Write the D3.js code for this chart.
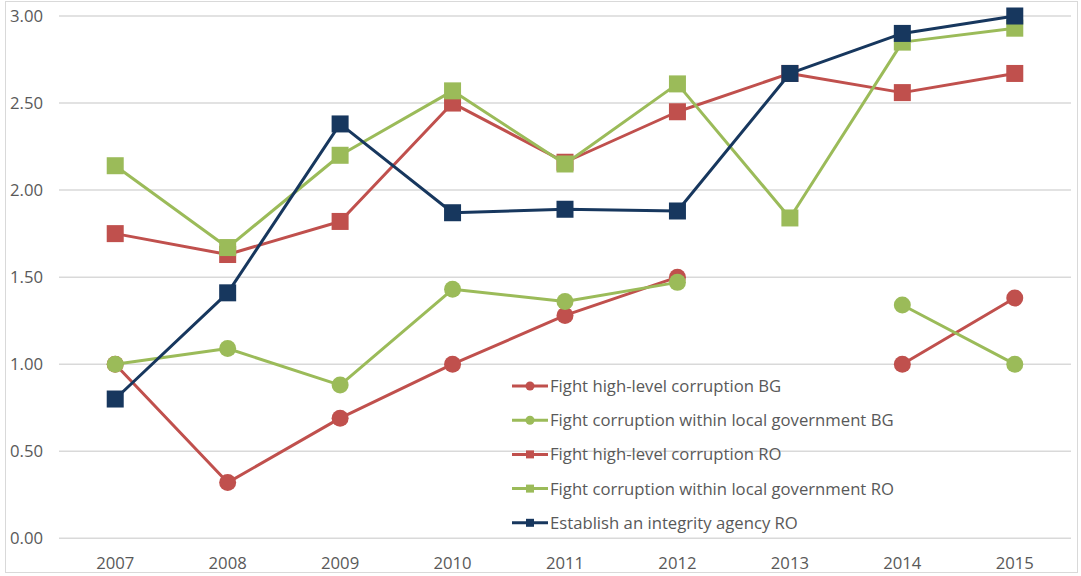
<!DOCTYPE html>
<html>
<head>
<meta charset="utf-8">
<script src="https://cdn.jsdelivr.net/npm/d3@7"></script>
<style>
  body { margin: 0; background: #fff; }
  svg text { font-family: 'Open Sans', 'Liberation Sans', sans-serif; fill: #595959; }
</style>
</head>
<body>
<svg id="chart" width="1081" height="576"></svg>
<script>
// Data
const years = ['2007', '2008', '2009', '2010', '2011', '2012', '2013', '2014', '2015'];
const yTicks = [0, 0.5, 1, 1.5, 2, 2.5, 3];

const highLevelBG = [1.0, 0.32, 0.69, 1.0, 1.28, 1.5, null, 1.0, 1.38];
const localGovBG = [1.0, 1.09, 0.88, 1.43, 1.36, 1.47, null, 1.34, 1.0];
const highLevelRO = [1.75, 1.63, 1.82, 2.5, 2.16, 2.45, 2.67, 2.56, 2.67];
const localGovRO = [2.14, 1.67, 2.2, 2.57, 2.15, 2.61, 1.84, 2.85, 2.93];
const integrityRO = [0.8, 1.41, 2.38, 1.87, 1.89, 1.88, 2.67, 2.9, 3.0];

const series = [
  { name: 'Fight high-level corruption BG', values: highLevelBG, color: '#C0504D', marker: 'circle' },
  { name: 'Fight corruption within local government BG', values: localGovBG, color: '#9BBB59', marker: 'circle' },
  { name: 'Fight high-level corruption RO', values: highLevelRO, color: '#C0504D', marker: 'square' },
  { name: 'Fight corruption within local government RO', values: localGovRO, color: '#9BBB59', marker: 'square' },
  { name: 'Establish an integrity agency RO', values: integrityRO, color: '#17375E', marker: 'square' },
];

const svg = d3.select('#chart');

// Chart border
svg.append('rect')
  .attr('x', 5.5).attr('y', 1.5)
  .attr('width', 1072).attr('height', 571)
  .attr('fill', 'none')
  .attr('stroke', '#D9D9D9');

const x = d3.scaleBand().domain(years).range([59, 1071]);
const y = d3.scaleLinear().domain([0, 3]).range([538.3, 16]);
const cx = d => x(d) + x.bandwidth() / 2;

// Gridlines
svg.append('g').classed('grid', true)
  .selectAll('line')
  .data(yTicks)
  .join('line')
  .attr('x1', 59).attr('x2', 1071)
  .attr('y1', d => y(d)).attr('y2', d => y(d))
  .attr('stroke', '#D9D9D9')
  .attr('stroke-width', 1.5);

// Y axis labels
svg.append('g').classed('y-labels', true)
  .selectAll('text')
  .data(yTicks)
  .join('text')
  .attr('x', 43)
  .attr('y', d => y(d) + 6)
  .attr('text-anchor', 'end')
  .attr('font-size', 16.7)
  .text(d3.format('.2f'));

// X axis labels
svg.append('g').classed('x-labels', true)
  .selectAll('text')
  .data(years)
  .join('text')
  .attr('x', d => cx(d))
  .attr('y', 569)
  .attr('text-anchor', 'middle')
  .attr('font-size', 16.7)
  .text(d => d);

const line = d3.line()
  .defined(d => d.v != null)
  .x(d => cx(d.year))
  .y(d => y(d.v));

// Series: line then markers, drawn in legend order
series.forEach(s => {
  const pts = s.values.map((v, i) => ({ year: years[i], v }));
  const g = svg.append('g').classed('series', true);

  g.append('path')
    .attr('d', line(pts))
    .attr('fill', 'none')
    .attr('stroke', s.color)
    .attr('stroke-width', 3)
    .attr('stroke-linejoin', 'round');

  const valid = pts.filter(d => d.v != null);
  if (s.marker === 'circle') {
    g.selectAll('circle')
      .data(valid)
      .join('circle')
      .attr('cx', d => cx(d.year))
      .attr('cy', d => y(d.v))
      .attr('r', 8.5)
      .attr('fill', s.color);
  } else {
    g.selectAll('rect')
      .data(valid)
      .join('rect')
      .attr('x', d => cx(d.year) - 8.5)
      .attr('y', d => y(d.v) - 8.5)
      .attr('width', 17)
      .attr('height', 17)
      .attr('fill', s.color);
  }
});

// Legend
const legend = svg.append('g')
  .classed('legend', true)
  .attr('transform', 'translate(512, 386)')
  .selectAll('g')
  .data(series)
  .join('g')
  .attr('transform', (d, i) => `translate(0, ${i * 34.2})`);

legend.append('line')
  .attr('x1', 0).attr('x2', 36)
  .attr('stroke', d => d.color)
  .attr('stroke-width', 3);

legend.filter(d => d.marker === 'circle')
  .append('circle')
  .attr('cx', 18).attr('r', 4.5)
  .attr('fill', d => d.color);

legend.filter(d => d.marker === 'square')
  .append('rect')
  .attr('x', 14).attr('y', -4).attr('width', 8).attr('height', 8)
  .attr('fill', d => d.color);

legend.append('text')
  .attr('x', 38)
  .attr('y', 6)
  .attr('font-size', 16.7)
  .text(d => d.name);
</script>
</body>
</html>
